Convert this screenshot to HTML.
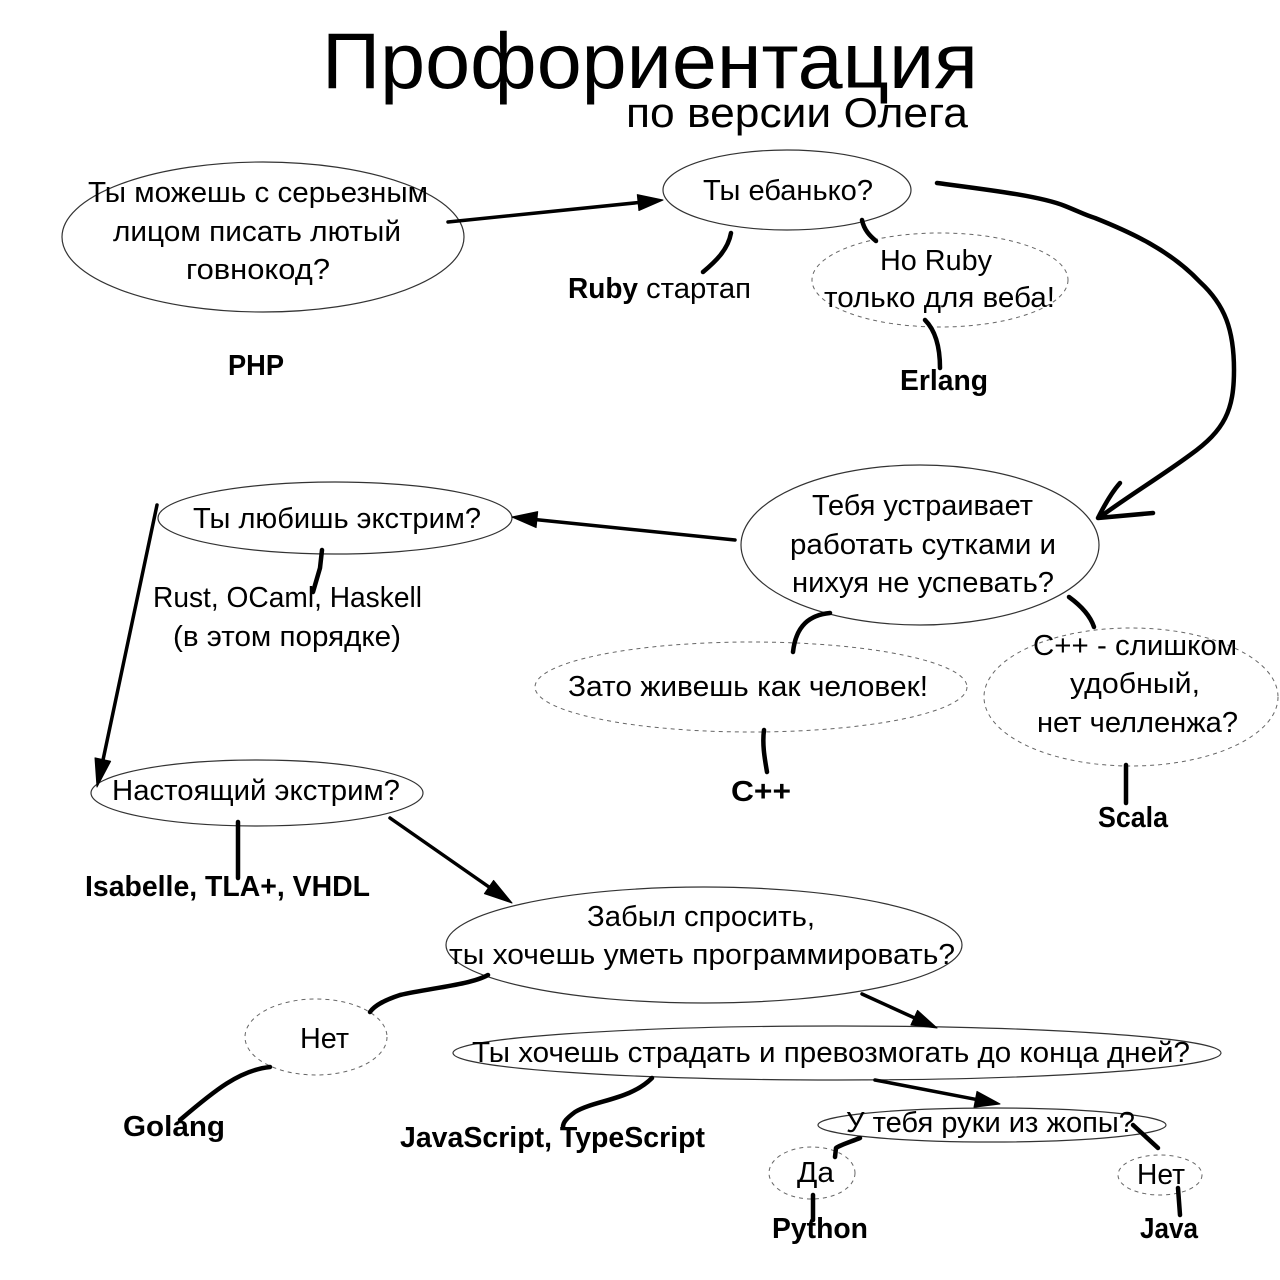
<!DOCTYPE html>
<html><head><meta charset="utf-8"><style>
html,body{margin:0;padding:0;background:#fff;}
svg{display:block;}
text{font-family:"Liberation Sans","Noto Sans CJK SC",sans-serif;fill:#000;}
.b{font-weight:bold;font-size:29px;}
</style></head><body>
<svg width="1280" height="1280" viewBox="0 0 1280 1280" xmlns="http://www.w3.org/2000/svg">
<rect width="1280" height="1280" fill="#fff"/>
<!-- Title -->
<text x="322" y="88" font-size="79" textLength="656" lengthAdjust="spacingAndGlyphs">Профориентация</text>
<text x="626" y="127" font-size="42" textLength="342" lengthAdjust="spacingAndGlyphs">по версии Олега</text>

<!-- Ellipses solid -->
<g fill="none" stroke="#333" stroke-width="1.2">
<ellipse cx="263" cy="237" rx="201" ry="75"/>
<ellipse cx="787" cy="190" rx="124" ry="40"/>
<ellipse cx="920" cy="545" rx="179" ry="80"/>
<ellipse cx="335" cy="518" rx="177" ry="36"/>
<ellipse cx="257" cy="793" rx="166" ry="33"/>
<ellipse cx="704" cy="945" rx="258" ry="58"/>
<ellipse cx="837" cy="1053" rx="384" ry="27"/>
<ellipse cx="992" cy="1125" rx="174" ry="17"/>
</g>
<!-- Ellipses dashed -->
<g fill="none" stroke="#666" stroke-width="1" stroke-dasharray="4 4">
<ellipse cx="940" cy="280" rx="128" ry="47"/>
<ellipse cx="751" cy="687" rx="216" ry="45"/>
<ellipse cx="1131" cy="697" rx="147" ry="69"/>
<ellipse cx="316" cy="1037" rx="71" ry="38"/>
<ellipse cx="812" cy="1173" rx="43" ry="26"/>
<ellipse cx="1160" cy="1175" rx="42" ry="20"/>
</g>

<!-- Straight arrows -->
<g stroke="#000" stroke-width="3.5" stroke-linecap="round" fill="none">
<line x1="448" y1="222" x2="640" y2="202.4"/>
<line x1="735" y1="540" x2="536" y2="519.6"/>
<line x1="157" y1="505" x2="103" y2="760"/>
<line x1="390" y1="818" x2="489" y2="887"/>
<line x1="862" y1="994" x2="914" y2="1017.7"/>
<line x1="875" y1="1080" x2="975.5" y2="1099.3"/>
</g>
<g fill="#000" stroke="#000" stroke-width="1" stroke-linejoin="round">
<polygon points="663,200 638.9,210.5 637.3,194.6"/>
<polygon points="512,517 537.7,511.6 536.1,527.6"/>
<polygon points="97,787 110.6,761.3 95,757.9"/>
<polygon points="512,903 484.4,893.6 493.6,880.4"/>
<polygon points="937,1028 910.9,1025 917.5,1010.4"/>
<polygon points="1000,1104 974,1107.2 977,1091.4"/>
</g>

<!-- Big curved arrow -->
<g stroke="#000" stroke-width="4.5" stroke-linecap="round" stroke-linejoin="round" fill="none">
<path d="M937,183 C990,190 1040,196 1065,206 C1080,212 1085,215 1095,218 C1130,232 1170,250 1200,282 C1225,305 1234,330 1234,370 C1234,410 1225,430 1190,455 C1160,477 1130,495 1100,517"/>
<path d="M1120,483 C1112,492 1104,506 1098,518 L1153,513"/>
</g>

<!-- Hand-drawn connectors -->
<g stroke="#000" stroke-width="4.5" stroke-linecap="round" stroke-linejoin="round" fill="none">
<path d="M731,233 C728,250 715,262 703,272"/>
<path d="M862,220 C864,230 870,236 876,241"/>
<path d="M925,320 C935,330 940,345 940,368"/>
<path d="M322,550 L320,568 L313,592"/>
<path d="M238,822 L238,878"/>
<path d="M830,613 C810,615 796,625 793,652"/>
<path d="M764,730 C762,745 765,760 767,772"/>
<path d="M1069,597 C1080,605 1090,615 1094,627"/>
<path d="M1126,765 L1126,803"/>
<path d="M488,975 C470,985 430,988 400,995 C385,1000 375,1005 370,1012"/>
<path d="M270,1067 C240,1070 215,1090 180,1120"/>
<path d="M652,1078 C630,1100 595,1100 575,1112 C567,1118 563,1122 563,1127"/>
<path d="M860,1138 C850,1142 840,1145 836,1148 L835,1157"/>
<path d="M1133,1125 L1158,1148"/>
<path d="M813,1195 L813,1220"/>
<path d="M1178,1188 L1180,1215"/>
</g>

<!-- Texts -->
<g font-size="28.5">
<text x="88" y="202" textLength="340" lengthAdjust="spacingAndGlyphs">Ты можешь с серьезным</text>
<text x="113" y="241" textLength="288" lengthAdjust="spacingAndGlyphs">лицом писать лютый</text>
<text x="186" y="279" textLength="144" lengthAdjust="spacingAndGlyphs">говнокод?</text>
<text x="703" y="200" textLength="170" lengthAdjust="spacingAndGlyphs">Ты ебанько?</text>
<text x="568" y="298" class="b" textLength="70" lengthAdjust="spacingAndGlyphs">Ruby</text>
<text x="646" y="298" textLength="105" lengthAdjust="spacingAndGlyphs">стартап</text>
<text x="880" y="270" textLength="112" lengthAdjust="spacingAndGlyphs">Но Ruby</text>
<text x="824" y="307" textLength="231" lengthAdjust="spacingAndGlyphs">только для веба!</text>
<text x="900" y="390" class="b" textLength="88" lengthAdjust="spacingAndGlyphs">Erlang</text>
<text x="228" y="375" class="b" textLength="56" lengthAdjust="spacingAndGlyphs">PHP</text>
<text x="812" y="515" textLength="221" lengthAdjust="spacingAndGlyphs">Тебя устраивает</text>
<text x="790" y="554" textLength="266" lengthAdjust="spacingAndGlyphs">работать сутками и</text>
<text x="792" y="592" textLength="262" lengthAdjust="spacingAndGlyphs">нихуя не успевать?</text>
<text x="193" y="528" textLength="288" lengthAdjust="spacingAndGlyphs">Ты любишь экстрим?</text>
<text x="153" y="607" textLength="269" lengthAdjust="spacingAndGlyphs">Rust, OCaml, Haskell</text>
<text x="173" y="646" textLength="228" lengthAdjust="spacingAndGlyphs">(в этом порядке)</text>
<text x="112" y="800" textLength="288" lengthAdjust="spacingAndGlyphs">Настоящий экстрим?</text>
<text x="85" y="896" class="b" textLength="285" lengthAdjust="spacingAndGlyphs">Isabelle, TLA+, VHDL</text>
<text x="568" y="696" textLength="360" lengthAdjust="spacingAndGlyphs">Зато живешь как человек!</text>
<text x="731" y="801" class="b" textLength="60" lengthAdjust="spacingAndGlyphs">C++</text>
<text x="1033" y="655" textLength="204" lengthAdjust="spacingAndGlyphs">C++ - слишком</text>
<text x="1070" y="693" textLength="130" lengthAdjust="spacingAndGlyphs">удобный,</text>
<text x="1037" y="732" textLength="201" lengthAdjust="spacingAndGlyphs">нет челленжа?</text>
<text x="1098" y="827" class="b" textLength="70" lengthAdjust="spacingAndGlyphs">Scala</text>
<text x="587" y="926" textLength="228" lengthAdjust="spacingAndGlyphs">Забыл спросить,</text>
<text x="449" y="964" textLength="506" lengthAdjust="spacingAndGlyphs">ты хочешь уметь программировать?</text>
<text x="300" y="1048" textLength="49" lengthAdjust="spacingAndGlyphs">Нет</text>
<text x="123" y="1136" class="b" textLength="102" lengthAdjust="spacingAndGlyphs">Golang</text>
<text x="472" y="1062" textLength="718" lengthAdjust="spacingAndGlyphs">Ты хочешь страдать и превозмогать до конца дней?</text>
<text x="400" y="1147" class="b" textLength="305" lengthAdjust="spacingAndGlyphs">JavaScript, TypeScript</text>
<text x="846" y="1132" textLength="289" lengthAdjust="spacingAndGlyphs">У тебя руки из жопы?</text>
<text x="797" y="1182" textLength="37" lengthAdjust="spacingAndGlyphs">Да</text>
<text x="772" y="1238" class="b" textLength="96" lengthAdjust="spacingAndGlyphs">Python</text>
<text x="1137" y="1184" textLength="48" lengthAdjust="spacingAndGlyphs">Нет</text>
<text x="1140" y="1238" class="b" textLength="58" lengthAdjust="spacingAndGlyphs">Java</text>
</g>
</svg>
</body></html>
